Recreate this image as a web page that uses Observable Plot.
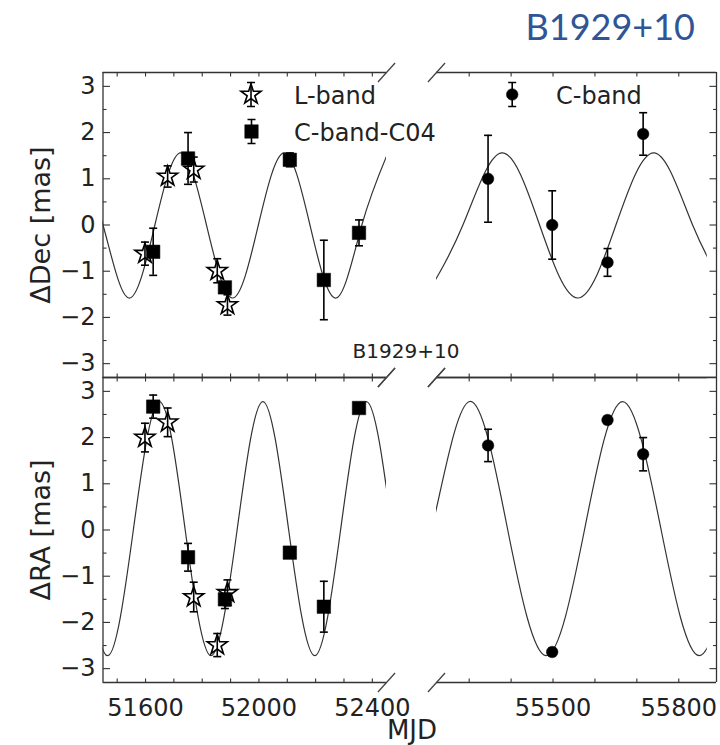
<!DOCTYPE html>
<html><head><meta charset="utf-8">
<script src="https://cdn.jsdelivr.net/npm/d3@7"></script>
<script src="https://cdn.jsdelivr.net/npm/@observablehq/plot@0.6"></script>
<style>
body{margin:0;background:#fff;}
#chart{position:relative;width:720px;height:745px;overflow:hidden;background:#fff;}
#chart svg{position:absolute;left:0;top:0;}
.lbl{position:absolute;white-space:nowrap;line-height:0.8;}
</style></head><body><div id="chart"></div>
<script>
// ---------------- data ----------------
const lbandMJD    = [51598, 51678, 51770, 51853, 51889];
const lbandDec    = [-0.62, 1.05, 1.20, -0.99, -1.73];
const lbandDecErr = [0.25, 0.23, 0.27, 0.26, 0.22];
const lbandRA     = [2.00, 2.33, -1.45, -2.49, -1.36];
const lbandRAErr  = [0.31, 0.31, 0.32, 0.25, 0.28];

const c04MJD    = [51627, 51750, 51880, 52109, 52229, 52353];
const c04Dec    = [-0.58, 1.44, -1.35, 1.41, -1.19, -0.17];
const c04DecErr = [0.51, 0.56, 0.10, 0.15, 0.86, 0.28];
const c04RA     = [2.67, -0.59, -1.50, -0.49, -1.66, 2.64];
const c04RAErr  = [0.25, 0.30, 0.20, 0.10, 0.55, 0.10];

const cbandMJD    = [55345, 55498, 55630, 55715];
const cbandDec    = [1.00, 0.00, -0.81, 1.97];
const cbandDecErr = [0.94, 0.74, 0.30, 0.46];
const cbandRA     = [1.83, -2.64, 2.38, 1.64];
const cbandRAErr  = [0.35, 0.08, 0.08, 0.36];

// model curve: extrema and zero crossings
const fitDecLeftMJD  = [51359, 51450, 51541, 51633, 51724, 51815, 51907, 51998, 52089, 52180, 52272, 52363, 52455];
const fitDecLeft     = [1.56, 0, -1.58, 0, 1.56, 0, -1.58, 0, 1.56, 0, -1.58, 0, 1.56];
const fitDecRightMJD = [55194, 55285, 55377, 55468, 55559, 55650, 55742, 55833, 55924];
const fitDecRight    = [-1.58, 0, 1.56, 0, -1.58, 0, 1.56, 0, -1.58];
const fitRALeftMJD   = [51375, 51466, 51557, 51649, 51740, 51831, 51923, 52014, 52105, 52197, 52288, 52379, 52470];
const fitRALeft      = [0, -2.72, 0, 2.78, 0, -2.72, 0, 2.78, 0, -2.72, 0, 2.78, 0];
const fitRARightMJD  = [55118, 55210, 55301, 55392, 55484, 55575, 55666, 55758, 55849, 55940];
const fitRARight     = [-2.72, 0, 2.78, 0, -2.72, 0, 2.78, 0, -2.72, 0];
const fitEndRight    = 55868;   // the model curve stops here in the right panels

// axes
const xDomainLeft  = [51450, 52450];
const xDomainRight = [55222, 55890];
const yDomain      = [-3.3, 3.3];
const xTicksLeft   = [51500, 51600, 51700, 51800, 51900, 52000, 52100, 52200, 52300, 52400];
const xLabelsLeft  = [51600, 52000, 52400];
const xTicksRight  = [55300, 55400, 55500, 55600, 55700, 55800];
const xLabelsRight = [55500, 55800];
const yMajor = [-3, -2, -1, 0, 1, 2, 3];
const yMinor = [-2.5, -1.5, -0.5, 0.5, 1.5, 2.5];

// ---------------- layout ----------------
const W = 720, H = 745;
const cols = {left: [102.5, 386], right: [436, 716]};
const rows = {top: [72, 377], bottom: [377, 682]};
const INK = "#333";
const FONT = "DejaVu Sans";

const rowsOf = (xs, ys, es) => xs.map((x, i) => ({x, y: ys[i], e: es ? es[i] : 0}));
const sym = f => ({draw(c, size) { f(c, Math.sqrt(size / Math.PI)); }});
const tickE = sym((c, l) => { c.moveTo(0, 0); c.lineTo(l, 0); });
const tickW = sym((c, l) => { c.moveTo(0, 0); c.lineTo(-l, 0); });
const tickN = sym((c, l) => { c.moveTo(0, 0); c.lineTo(0, -l); });
const tickS = sym((c, l) => { c.moveTo(0, 0); c.lineTo(0, l); });
const capSym = sym((c, l) => { c.moveTo(-l, 0); c.lineTo(l, 0); });
const slashSym = sym((c, l) => { c.moveTo(-0.9 * l, l); c.lineTo(0.9 * l, -l); });
const barSym = sym((c, l) => {
  c.moveTo(0, -l); c.lineTo(0, l);
  c.moveTo(-4, -l); c.lineTo(4, -l);
  c.moveTo(-4, l); c.lineTo(4, l);
});

const markerStyle = {
  star:   {symbol: "star", r: 6.3, fill: "white", stroke: "black", strokeWidth: 1.6},
  square: {symbol: "square", r: 7.6, fill: "black", stroke: "black", strokeWidth: 0.5},
  circle: {symbol: "circle", r: 5.8, fill: "black", stroke: "black", strokeWidth: 0.5}
};

function errorMarks(data, kind) {
  return [
    Plot.dot(data, {x: "x", y: "y", ...markerStyle[kind]}),
    Plot.ruleX(data, {x: "x", y1: d => d.y - d.e, y2: d => d.y + d.e, stroke: "black", strokeWidth: 1.6}),
    Plot.dot(data, {x: "x", y: d => d.y + d.e, symbol: capSym, r: 4, fill: "none", stroke: "black", strokeWidth: 1.6}),
    Plot.dot(data, {x: "x", y: d => d.y - d.e, symbol: capSym, r: 4, fill: "none", stroke: "black", strokeWidth: 1.6})
  ];
}

function legendEntry(kind, label, dx, dy, tdx) {
  return [
    Plot.dot([0], {x: null, y: null, frameAnchor: "top-left", dx, dy, ...markerStyle[kind]}),
    Plot.dot([0], {x: null, y: null, frameAnchor: "top-left", dx, dy, symbol: barSym, r: 12, fill: "none", stroke: "black", strokeWidth: 1.6}),
    Plot.text([label], {x: null, y: null, text: d => d, frameAnchor: "top-left", dx: tdx, dy: dy + 9.5,
      textAnchor: "start", lineAnchor: "bottom", fontSize: 24, fill: "#222"})
  ];
}

function panel({col, row, xDomain, xTicks, xLabels, yLabel, fitX, fitY, series, legend}) {
  const [x0, x1] = cols[col], [y0, y1] = rows[row];
  const isLeft = col === "left", isBottom = row === "bottom";
  const marks = [
    // model curve (clipped to the frame)
    Plot.line(fitX.map((m, i) => ({m, v: fitY[i]})), {x: "m", y: "v", curve: "natural", stroke: "#333", strokeWidth: 1.2, clip: true})
  ];
  // the right-panel model stops before the frame edge
  if (!isLeft) marks.push(Plot.rect([0], {x1: fitEndRight, x2: xDomain[1], fill: "white"}));
  marks.push(
    // frame sides (broken axis: no inner vertical side)
    Plot.ruleY([yDomain[0], yDomain[1]], {stroke: INK, strokeWidth: 1.3}),
    Plot.ruleX([isLeft ? xDomain[0] : xDomain[1]], {stroke: INK, strokeWidth: 1.3}),
    // inward ticks
    Plot.dot(xTicks, {x: d => d, frameAnchor: "top", symbol: tickS, r: 4, fill: "none", stroke: INK, strokeWidth: 1.1}),
    Plot.dot(xTicks, {x: d => d, frameAnchor: "bottom", symbol: tickN, r: 4, fill: "none", stroke: INK, strokeWidth: 1.1}),
    Plot.dot(yMajor, {y: d => d, frameAnchor: isLeft ? "left" : "right", symbol: isLeft ? tickE : tickW, r: 7, fill: "none", stroke: INK, strokeWidth: 1.1}),
    Plot.dot(yMinor, {y: d => d, frameAnchor: isLeft ? "left" : "right", symbol: isLeft ? tickE : tickW, r: 3.5, fill: "none", stroke: INK, strokeWidth: 1.1}),
    // break marks
    Plot.dot([0], {x: null, y: null, frameAnchor: isLeft ? "top-right" : "top-left", symbol: slashSym, r: 9.5, fill: "none", stroke: "#444", strokeWidth: 1.3}),
    Plot.dot([0], {x: null, y: null, frameAnchor: isLeft ? "bottom-right" : "bottom-left", symbol: slashSym, r: 9.5, fill: "none", stroke: "#444", strokeWidth: 1.3})
  );
  for (const [data, kind] of series) marks.push(...errorMarks(data, kind));
  if (legend) for (const l of legend) marks.push(...legendEntry(...l));
  if (isLeft) {
    marks.push(Plot.axisY({ticks: yMajor, anchor: "left", tickSize: 0, tickPadding: 7.5, fontSize: 24, tickFormat: "d", label: null}));
    marks.push(Plot.text([yLabel], {x: null, y: null, text: d => d, frameAnchor: "left", dx: -53, rotate: -90,
      textAnchor: "middle", lineAnchor: "bottom", fontSize: 27, fill: "#222"}));
  }
  if (isBottom) {
    marks.push(Plot.axisX({ticks: xLabels, anchor: "bottom", tickSize: 0, tickPadding: 16, fontSize: 24, tickFormat: "d", label: null}));
  }
  return Plot.plot({
    width: W, height: H,
    marginLeft: x0, marginRight: W - x1, marginTop: y0, marginBottom: H - y1,
    x: {domain: xDomain, axis: isBottom ? undefined : null},
    y: {domain: yDomain, axis: null},
    style: {background: "transparent", color: "#222", fontFamily: FONT, overflow: "visible"},
    marks
  });
}

const chart = document.getElementById("chart");
const panels = [
  panel({col: "left", row: "top", xDomain: xDomainLeft, xTicks: xTicksLeft, xLabels: xLabelsLeft, yLabel: "ΔDec [mas]",
    fitX: fitDecLeftMJD, fitY: fitDecLeft,
    series: [[rowsOf(lbandMJD, lbandDec, lbandDecErr), "star"], [rowsOf(c04MJD, c04Dec, c04DecErr), "square"]],
    legend: [["star", "L-band", 148, 22, 191], ["square", "C-band-C04", 148.5, 59, 191]]}),
  panel({col: "right", row: "top", xDomain: xDomainRight, xTicks: xTicksRight, xLabels: xLabelsRight,
    fitX: fitDecRightMJD, fitY: fitDecRight,
    series: [[rowsOf(cbandMJD, cbandDec, cbandDecErr), "circle"]],
    legend: [["circle", "C-band", 75.7, 22, 119.5]]}),
  panel({col: "left", row: "bottom", xDomain: xDomainLeft, xTicks: xTicksLeft, xLabels: xLabelsLeft, yLabel: "ΔRA [mas]",
    fitX: fitRALeftMJD, fitY: fitRALeft,
    series: [[rowsOf(lbandMJD, lbandRA, lbandRAErr), "star"], [rowsOf(c04MJD, c04RA, c04RAErr), "square"]]}),
  panel({col: "right", row: "bottom", xDomain: xDomainRight, xTicks: xTicksRight, xLabels: xLabelsRight,
    fitX: fitRARightMJD, fitY: fitRARight,
    series: [[rowsOf(cbandMJD, cbandRA, cbandRAErr), "circle"]]})
];
for (const p of panels) chart.appendChild(p);

// texts outside the plotting frames
function label(text, {left, top, size, family, color = "#222", anchor = "start"}) {
  const d = document.createElement("div");
  d.className = "lbl";
  d.textContent = text;
  Object.assign(d.style, {left: left + "px", top: top + "px", fontSize: size + "px", fontFamily: family, color});
  if (anchor === "middle") d.style.transform = "translateX(-50%)";
  if (anchor === "end") d.style.transform = "translateX(-100%)";
  chart.appendChild(d);
}
label("B1929+10", {left: 695, top: 12, size: 36, family: "Lato", color: "#2F5597", anchor: "end"});
label("B1929+10", {left: 406, top: 343, size: 20, family: FONT, anchor: "middle"});
label("MJD", {left: 412, top: 719.5, size: 26, family: FONT, anchor: "middle"});
</script>
</body></html>
